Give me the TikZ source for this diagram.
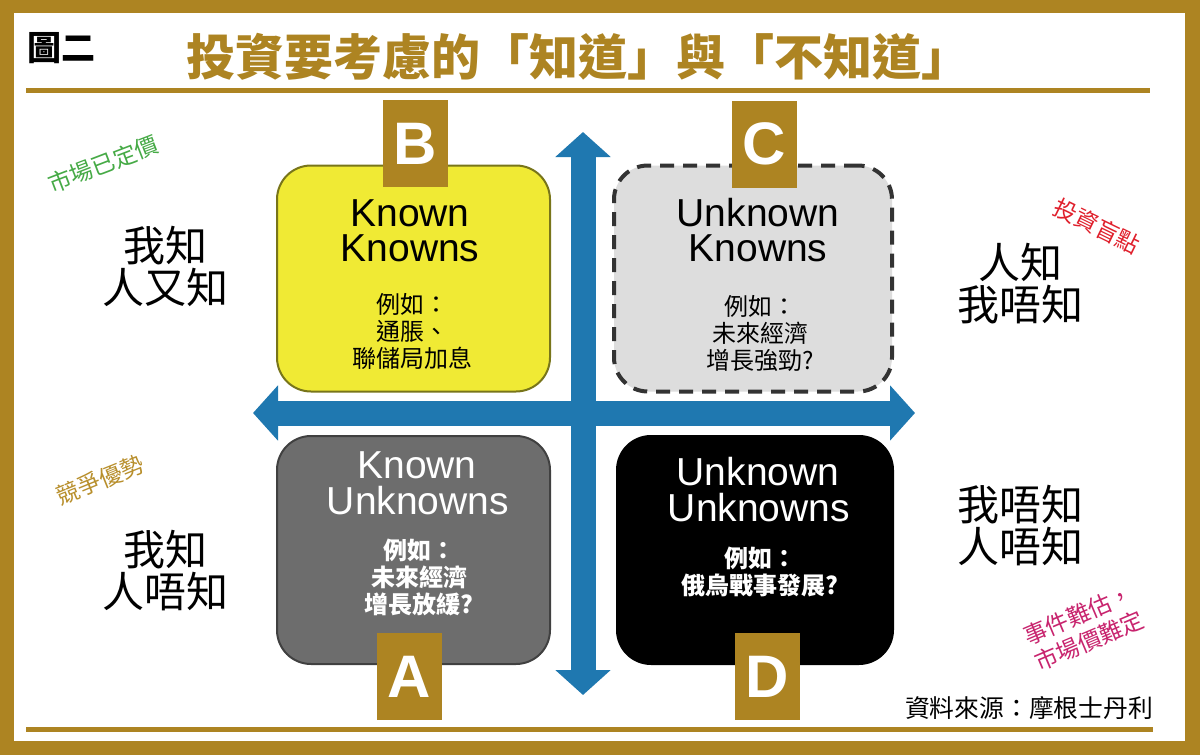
\documentclass[tikz,border=0pt]{standalone}
\usepackage{fontspec}
\setmainfont{Liberation Sans}
\newfontfamily\cjk{Noto Sans CJK TC}
\usetikzlibrary{arrows.meta}

\definecolor{frameGold}{HTML}{AD8422}
\definecolor{axisBlue}{HTML}{1F78B0}
\definecolor{boxYellow}{HTML}{F0EA34}
\definecolor{boxLight}{HTML}{DDDDDD}
\definecolor{boxDark}{HTML}{6D6D6D}
\definecolor{tagGreen}{HTML}{46AA46}
\definecolor{tagGold}{HTML}{B88F2C}
\definecolor{tagRed}{HTML}{E0202C}
\definecolor{tagMagenta}{HTML}{C8246E}

\begin{document}
\begin{tikzpicture}[x=0.5pt,y=-0.5pt,
  quad/.style={rounded corners=17pt, minimum width=#1, minimum height=113pt, inner sep=0pt},
  tabbox/.style={fill=frameGold, minimum width=32.5pt, minimum height=43.5pt, inner sep=0pt,
    text=white, font=\bfseries\fontsize{30}{30}\selectfont},
  heading/.style={anchor=base, inner sep=0pt, font=\fontsize{19.5}{19.5}\selectfont},
  example/.style={align=center, inner sep=0pt, font=\cjk\fontsize{12}{13.5}\selectfont},
  side/.style={align=center, inner sep=0pt, font=\cjk\fontsize{21}{21}\selectfont},
  tag/.style={align=center, inner sep=0pt, font=\cjk\fontsize{11.6}{14}\selectfont},
  axis/.style={draw=axisBlue, line width=12.5pt,
    {Triangle[width=27pt,length=12.5pt]}-{Triangle[width=27pt,length=12.5pt]}},
  rule/.style={draw=frameGold, line width=2.5pt}
]
\useasboundingbox (0,0) rectangle (1200,755);

% frame
\fill[frameGold] (0,0) rectangle (1200,755);
\fill[white] (14,13) rectangle (1185,741);

% header
\node[inner sep=0pt, font=\cjk\bfseries\fontsize{17}{17}\selectfont] (fig) at (61,48) {圖二};
\node[inner sep=0pt, text=frameGold, font=\cjk\bfseries\fontsize{24.5}{24.5}\selectfont] (title) at (578,57)
  {投資要考慮的「知道」與「不知道」};
\coordinate (topL) at (26,90);
\coordinate (topR) at (1150,90);
\draw[rule] (topL) -- (topR);
\coordinate (botL) at (26,729);
\coordinate (botR) at (1153,729);
\draw[rule] (botL) -- (botR);

% axes
\coordinate (north) at (583,132);
\coordinate (south) at (583,695);
\coordinate (west) at (253,413);
\coordinate (east) at (915,413);
\draw[axis] (south) -- (north);
\draw[axis] (west) -- (east);

% quadrants
\node[quad=136.5pt, fill=boxYellow, draw=black!50!boxYellow, line width=1pt] (B) at (413.5,278.5) {};
\node[quad=139pt, fill=boxLight, draw=black!80, line width=2pt, dash pattern=on 7pt off 4.5pt] (C) at (753,278.5) {};
\node[quad=136.5pt, fill=boxDark, draw=black!75, line width=1pt, minimum height=114pt] (A) at (413.5,550) {};
\node[quad=138pt, fill=black, draw=black, line width=1pt, minimum height=114pt] (D) at (755,550) {};

% letter tabs
\node[tabbox] (tB) at (415.5,143.5) {B};
\node[tabbox] (tC) at (764.5,144) {C};
\node[tabbox] (tA) at (409.5,676.5) {A};
\node[tabbox] (tD) at (767.5,676.5) {D};

% quadrant B
\node[heading] (B1) at (410,226) {Known};
\node[heading] (B2) at (410,261) {Knowns};
\node[example] (Bx) at (412,332) {例如：\\通脹、\\聯儲局加息};

% quadrant C
\node[heading] (C1) at (758,226) {Unknown};
\node[heading] (C2) at (758,261) {Knowns};
\node[example] (Cx) at (760,333) {例如：\\未來經濟\\增長強勁?};

% quadrant A
\node[heading, text=white] (A1) at (417,478) {Known};
\node[heading, text=white] (A2) at (418,514) {Unknowns};
\node[example, text=white, font=\cjk\bfseries\fontsize{12}{13.5}\selectfont] (Ax) at (419,577) {例如：\\未來經濟\\增長放緩?};

% quadrant D
\node[heading, text=white] (D1) at (758,485) {Unknown};
\node[heading, text=white] (D2) at (759,521) {Unknowns};
\node[example, text=white, font=\cjk\bfseries\fontsize{12}{13.5}\selectfont] (Dx) at (760,572) {例如：\\俄烏戰事發展?};

% side labels
\node[side] (sBl) at (165,266) {我知\\人又知};
\node[side] (sAl) at (165,571) {我知\\人唔知};
\node[side] (sCr) at (1020,284) {人知\\我唔知};
\node[side] (sDr) at (1020,526) {我唔知\\人唔知};

% slanted notes
\node[tag, text=tagGreen, rotate=21] (nB) at (103,164) {市場已定價};
\node[tag, text=tagGold, rotate=22] (nA) at (100,480) {競爭優勢};
\node[tag, text=tagRed, rotate=-26] (nC) at (1097,226) {投資盲點};
\node[tag, text=tagMagenta, rotate=23] (nD) at (1084,628) {事件難估，\\市場價難定};

% source
\node[inner sep=0pt, font=\cjk\fontsize{12.4}{12.4}\selectfont] (src) at (1029,708) {資料來源：摩根士丹利};
\end{tikzpicture}
\end{document}
